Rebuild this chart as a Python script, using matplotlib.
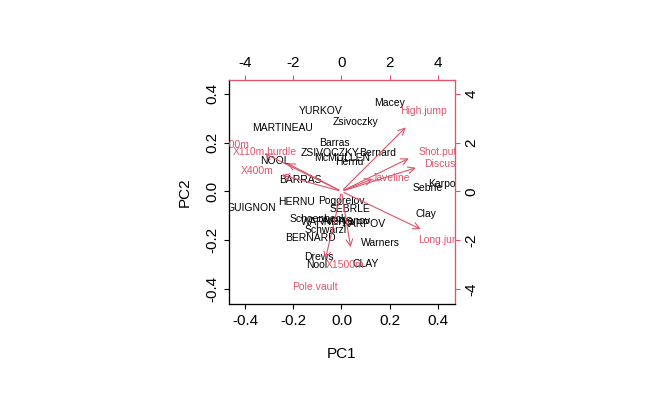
import matplotlib
matplotlib.use('Agg')
import matplotlib.pyplot as plt

plt.rcParams['font.family'] = ['Liberation Sans', 'DejaVu Sans']

# scores (PC1, PC2)
names = ['Macey', 'YURKOV', 'Zsivoczky', 'MARTINEAU', 'Barras', 'ZSIVOCZKY', 'McMULLEN',
         'Bernard', 'Hernu', 'NOOL', 'BARRAS', 'Sebrle', 'Karpov', 'GUIGNON', 'HERNU',
         'Pogorelov', 'SEBRLE', 'Clay', 'Schoenbeck', 'WARNERS', 'Averyanov', 'KARPOV',
         'Schwarzl', 'BERNARD', 'Warners', 'Drews', 'Nool', 'CLAY']
pc1 = [0.201, -0.085, 0.060, -0.243, -0.031, -0.048, 0.002, 0.151, 0.031, -0.276, -0.172,
       0.359, 0.429, -0.376, -0.185, 0.0, 0.035, 0.351, -0.098, -0.06, 0.02, 0.093,
       -0.064, -0.127, 0.164, -0.093, -0.102, 0.102]
pc2 = [0.363, 0.330, 0.285, 0.260, 0.199, 0.158, 0.137, 0.158, 0.121, 0.125, 0.047,
       0.014, 0.031, -0.068, -0.043, -0.039, -0.072, -0.092, -0.113, -0.125, -0.12, -0.133,
       -0.158, -0.191, -0.211, -0.268, -0.301, -0.297]

# loadings (arrow tips) and label positions
variables = ['X100m', 'X110m.hurdle', 'X400m', 'High.jump', 'Shot.put', 'Discus',
             'Javeline', 'Long.jump', 'X1500m', 'Pole.vault']
load1 = [-3.3, -2.35, -2.6, 2.75, 2.9, 3.2, 1.4, 3.4, 0.4, -0.7]
load2 = [1.6, 1.2, 0.7, 2.7, 1.4, 1.0, 0.55, -1.6, -2.4, -2.9]
lab1 = [-4.5, -3.2, -3.5, 3.4, 4.0, 4.1, 2.05, 4.2, 0.15, -1.1]
lab2 = [1.9, 1.6, 0.85, 3.3, 1.6, 1.1, 0.55, -2.0, -3.0, -3.9]

red = '#DF536B'
fig = plt.figure(figsize=(6.47, 4.03), dpi=100)
ax = fig.add_axes([0.354, 0.246, 0.349, 0.556])
ax.set_xlim(-0.467, 0.471)
ax.set_ylim(-0.461, 0.457)
for n, x, y in zip(names, pc1, pc2):
    ax.text(x, y, n, ha='center', va='center', fontsize=7.5, clip_on=True)
ax.set_xticks([-0.4, -0.2, 0.0, 0.2, 0.4])
ax.set_yticks([-0.4, -0.2, 0.0, 0.2, 0.4])
ax.set_xticklabels(['-0.4', '-0.2', '0.0', '0.2', '0.4'], fontsize=11)
ax.set_yticklabels(['-0.4', '-0.2', '0.0', '0.2', '0.4'], fontsize=11, rotation=90, va='center')
ax.set_xlabel('PC1', fontsize=11, labelpad=14)
ax.set_ylabel('PC2', fontsize=11, labelpad=10)

ax2 = ax.twinx().twiny()
ax2.set_xlim(-4.67, 4.71)
ax2.set_ylim(-4.61, 4.57)
axr = fig.axes[1]
axr.set_ylim(-4.61, 4.57)
axr.set_yticks([-4, -2, 0, 2, 4])
axr.set_yticklabels(['-4', '-2', '0', '2', '4'], fontsize=11, rotation=90, va='center')
axr.tick_params(axis='y', colors=red, labelcolor='black')
ax2.set_xticks([-4, -2, 0, 2, 4])
ax2.set_xticklabels(['-4', '-2', '0', '2', '4'], fontsize=11)
ax2.tick_params(axis='x', colors=red, labelcolor='black')
for a in fig.axes:
    a.spines['top'].set_color(red)
    a.spines['right'].set_color(red)
for v, x, y, lx, ly in zip(variables, load1, load2, lab1, lab2):
    ax2.annotate('', xy=(x, y), xytext=(0, 0),
                 arrowprops=dict(arrowstyle='->', color=red, lw=0.8, mutation_scale=12))
    ax2.text(lx, ly, v, ha='center', va='center', fontsize=7.5, color=red, clip_on=True)

fig.savefig('out.png', dpi=100)
